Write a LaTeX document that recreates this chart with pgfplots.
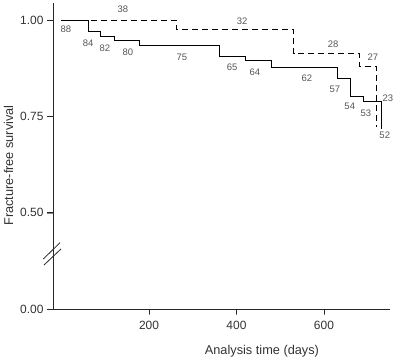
\documentclass[border=0pt]{standalone}
\usepackage{pgfplots}
\pgfplotsset{compat=1.18}
\usepackage{fontspec}
\setmainfont{Liberation Sans}
\definecolor{txt}{HTML}{333333}
\definecolor{cnt}{HTML}{555555}
\begin{document}
\begin{tikzpicture}
\begin{axis}[
  at={(0,0)}, anchor=south west,
  scale only axis, width=337bp, height=306bp,
  xmin=-19.4, xmax=751, ymin=0.25, ymax=1.044,
  axis x line*=bottom, axis y line*=left,
  axis line style={-, line width=0.8bp, black!85},
  xtick align=outside, ytick align=outside,
  major tick length=6bp,
  xtick={200,400,600}, ytick={0.25,0.5,0.75,1.0},
  yticklabels={0.00,0.50,0.75,1.00},
  /pgf/number format/assume math mode=true,
  ticklabel style={font=\fontsize{12}{14}\selectfont, text=txt},
  xticklabel style={yshift=-3bp},
  xlabel={Analysis time (days)},
  ylabel={Fracture-free survival},
  label style={font=\fontsize{12.8}{15}\selectfont, text=txt},
  xlabel style={at={(rel axis cs:0.62,0)}, anchor=base, inner sep=0pt, yshift=-45bp},
  ylabel style={at={(ticklabel cs:0.469)}},
  clip=false,
]
\addplot[const plot, black, line width=0.9bp] coordinates {
(0,1.00) (60.6,0.969) (90,0.957) (120,0.946) (179,0.933) (360,0.905)
(421,0.894) (481,0.877) (630,0.847) (661,0.801) (691,0.788) (731,0.717)};
\addplot[const plot, black, line width=0.9bp, dash pattern=on 6bp off 4bp] coordinates {
(0,1.00) (262,0.976) (531,0.914) (681,0.879) (720,0.723)};
\begin{scope}[every node/.style={font=\fontsize{9.5}{11}\selectfont, text=cnt, inner sep=0pt}]
\node at (axis cs:140.6,1.028) {38};
\node at (axis cs:10,0.977) {88};
\node at (axis cs:61,0.940) {84};
\node at (axis cs:99,0.927) {82};
\node at (axis cs:152,0.917) {80};
\node at (axis cs:275,0.904) {75};
\node at (axis cs:413,0.997) {32};
\node at (axis cs:390,0.878) {65};
\node at (axis cs:442,0.865) {64};
\node at (axis cs:561,0.850) {62};
\node at (axis cs:621,0.938) {28};
\node at (axis cs:712,0.904) {27};
\node at (axis cs:625,0.821) {57};
\node at (axis cs:659,0.775) {54};
\node at (axis cs:696,0.759) {53};
\node at (axis cs:746,0.798) {23};
\node at (axis cs:739,0.702) {52};
\end{scope}
\foreach \t in {200,400,600} {
  \edef\tmp{\noexpand\draw[line width=0.8bp, black!85] (axis cs:\t,0.25) -- ([yshift=-5bp]axis cs:\t,0.25);}\tmp
}
\foreach \t in {0.25,0.5,0.75,1.0} {
  \edef\tmp{\noexpand\draw[line width=0.8bp, black!85] (axis cs:-19.4,\t) -- ([xshift=-6bp]axis cs:-19.4,\t);}\tmp
}
\end{axis}
\draw[line width=0.8bp, black!85] (-9.7bp,50bp) -- (7bp,66.3bp);
\draw[line width=0.8bp, black!85] (-9bp,44bp) -- (8bp,60bp);
\path[use as bounding box] (-53bp,-52bp) rectangle (347bp,309bp);
\end{tikzpicture}
\end{document}
